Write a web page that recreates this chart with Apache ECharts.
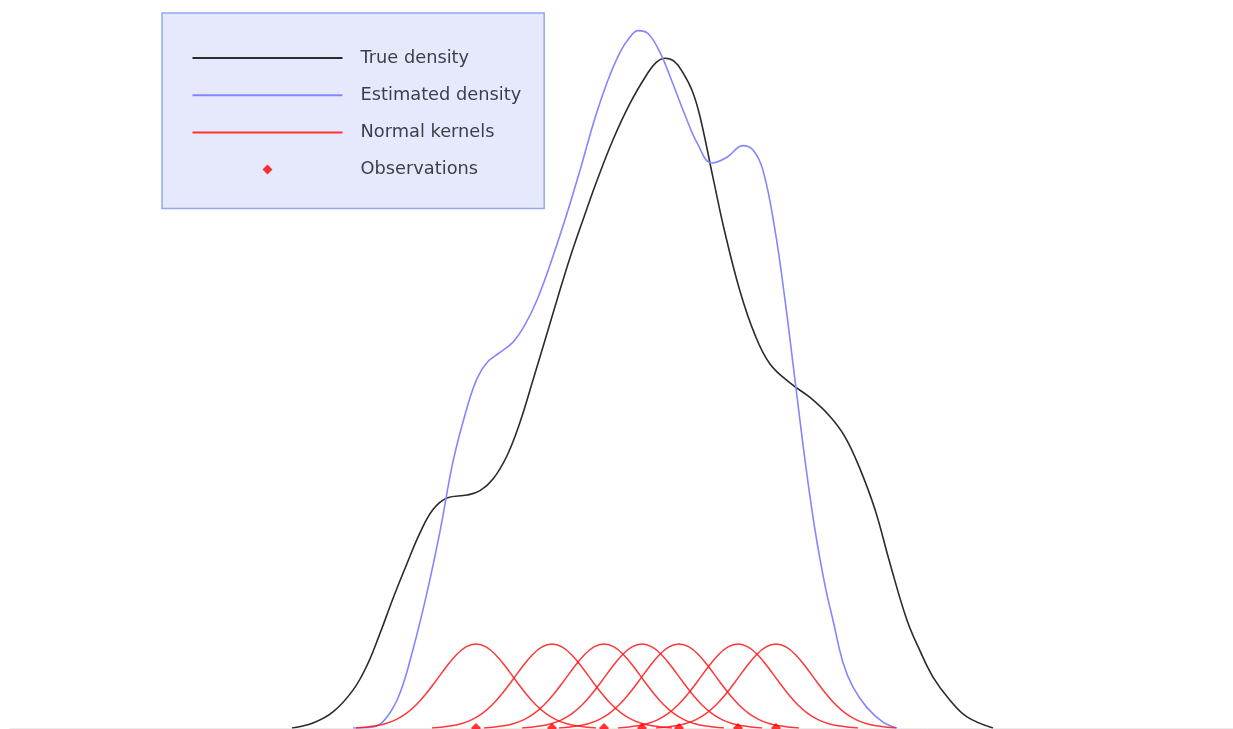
<!DOCTYPE html>
<html>
<head>
<meta charset="utf-8">
<title>Kernel density estimate</title>
<script src="https://cdn.jsdelivr.net/npm/echarts@6/dist/echarts.min.js"></script>
<style>
  html, body { margin: 0; padding: 0; background: #ffffff; }
  #chart { width: 1233px; height: 729px; }
</style>
</head>
<body>
<div id="chart"></div>
<script>
// True density curve: [x, density]
const trueDensity = [
  [-3.24, 0], [-3.03, 0.0034], [-2.83, 0.011], [-2.63, 0.026], [-2.49, 0.043],
  [-2.36, 0.065], [-2.23, 0.089], [-2.09, 0.113], [-1.96, 0.134], [-1.83, 0.150],
  [-1.69, 0.158], [-1.49, 0.160], [-1.36, 0.163], [-1.23, 0.171], [-1.09, 0.187],
  [-0.96, 0.210], [-0.83, 0.239], [-0.69, 0.271], [-0.59, 0.294], [-0.46, 0.323],
  [-0.32, 0.351], [-0.19, 0.376], [-0.03, 0.404], [0.14, 0.429], [0.31, 0.449],
  [0.40, 0.457], [0.49, 0.460], [0.58, 0.458], [0.67, 0.450], [0.76, 0.438],
  [0.84, 0.420], [0.97, 0.378], [1.09, 0.340], [1.24, 0.300], [1.39, 0.270],
  [1.54, 0.250], [1.74, 0.237], [1.94, 0.227], [2.14, 0.214], [2.29, 0.200],
  [2.44, 0.178], [2.59, 0.150], [2.74, 0.113], [2.91, 0.074], [3.04, 0.053],
  [3.17, 0.035], [3.34, 0.019], [3.51, 0.0076], [3.77, 0]
];

// Estimated (kernel) density curve: [x, density]
const estimatedDensity = [
  [-2.63, 0], [-2.43, 0.0007], [-2.29, 0.0076], [-2.16, 0.024], [-2.03, 0.054],
  [-1.89, 0.093], [-1.76, 0.135], [-1.63, 0.183], [-1.49, 0.220], [-1.39, 0.240],
  [-1.29, 0.251], [-1.16, 0.258], [-1.03, 0.265], [-0.91, 0.277], [-0.79, 0.294],
  [-0.66, 0.318], [-0.51, 0.349], [-0.36, 0.383], [-0.21, 0.419], [-0.08, 0.445],
  [0.04, 0.464], [0.14, 0.4746], [0.22, 0.479], [0.32, 0.477], [0.44, 0.464],
  [0.56, 0.444], [0.69, 0.421], [0.81, 0.402], [0.96, 0.388], [1.11, 0.392],
  [1.27, 0.400], [1.37, 0.397], [1.47, 0.383], [1.59, 0.342], [1.69, 0.294],
  [1.79, 0.239], [1.89, 0.184], [1.99, 0.136], [2.09, 0.098], [2.17, 0.074],
  [2.27, 0.045], [2.37, 0.028], [2.51, 0.014], [2.67, 0.004], [2.81, 0]
];

// Observed sample points
const observations = [-1.40, -0.64, -0.12, 0.26, 0.63, 1.22, 1.60];

// Profile of one scaled normal kernel: offset from its observation, and height
const kernelOffsets = [-1.2, -1.0, -0.9, -0.8, -0.7, -0.6, -0.5, -0.4, -0.3, -0.2, -0.1, 0,
                       0.1, 0.2, 0.3, 0.4, 0.5, 0.6, 0.7, 0.8, 0.9, 1.0, 1.2];
const kernelHeights = [0, 0.0016, 0.0031, 0.0058, 0.0099, 0.0158, 0.0235, 0.0325, 0.0417, 0.050, 0.0557, 0.0577,
                       0.0557, 0.050, 0.0417, 0.0325, 0.0235, 0.0158, 0.0099, 0.0058, 0.0031, 0.0016, 0];

const legendNames = ['True density', 'Estimated density', 'Normal kernels', 'Observations'];

const FONT = '"DejaVu Sans", "Liberation Sans", sans-serif';
const TEXT_COLOR = '#3c3f4a';
const KERNEL_COLOR = 'rgba(255, 20, 20, 0.85)';
const HIDDEN_MARKER = { color: 'rgba(0,0,0,0)', borderWidth: 0 };

const kernelSeries = observations.map(function (obs) {
  return {
    name: legendNames[2],
    type: 'line',
    showSymbol: false,
    symbol: 'none',
    smooth: 0.4,
    lineStyle: { color: KERNEL_COLOR, width: 1.5 },
    itemStyle: { color: KERNEL_COLOR },
    z: 3,
    data: kernelOffsets.map(function (d, i) { return [obs + d, kernelHeights[i]]; })
  };
});

const chart = echarts.init(document.getElementById('chart'), null, { renderer: 'canvas' });

chart.setOption({
  animation: false,
  backgroundColor: '#ffffff',
  grid: { left: 10, right: 0, top: 0, bottom: 1, containLabel: false },
  xAxis: {
    type: 'value',
    min: -6.06,
    max: 6.17,
    axisLine: { show: true, onZero: false, lineStyle: { color: '#ececec', width: 1 } },
    axisTick: { show: false },
    axisLabel: { show: false },
    splitLine: { show: false }
  },
  yAxis: {
    type: 'value',
    min: 0,
    max: 0.5,
    axisLine: { show: false },
    axisTick: { show: false },
    axisLabel: { show: false },
    splitLine: { show: false }
  },
  legend: {
    data: [
      { name: legendNames[0], itemStyle: HIDDEN_MARKER },
      { name: legendNames[1], itemStyle: HIDDEN_MARKER },
      { name: legendNames[2], itemStyle: HIDDEN_MARKER },
      { name: legendNames[3], icon: 'path://M0,-5 L5,0 L0,5 L-5,0 Z', itemStyle: { color: '#ff0000' } }
    ],
    orient: 'vertical',
    left: 162,
    top: 13,
    itemWidth: 150,
    itemHeight: 10,
    itemGap: 19.2,
    symbolKeepAspect: true,
    padding: [36, 23, 30, 29.5],
    backgroundColor: '#e6e9fc',
    borderColor: '#97a6f3',
    borderWidth: 1.5,
    selectedMode: false,
    textStyle: {
      fontFamily: FONT,
      fontSize: 17.8,
      color: TEXT_COLOR,
      padding: [0, 0, 0, 13]
    }
  },
  series: [
    {
      name: legendNames[0],
      type: 'line',
      showSymbol: false,
      symbol: 'none',
      smooth: 0.4,
      lineStyle: { color: '#2b2b2b', width: 1.6 },
      itemStyle: { color: '#2b2b2b' },
      z: 2,
      data: trueDensity
    },
    {
      name: legendNames[1],
      type: 'line',
      showSymbol: false,
      symbol: 'none',
      smooth: 0.4,
      lineStyle: { color: '#8585ff', width: 1.6 },
      itemStyle: { color: '#8585ff' },
      z: 2,
      data: estimatedDensity
    }
  ].concat(kernelSeries).concat([
    {
      name: legendNames[3],
      type: 'scatter',
      symbol: 'diamond',
      symbolSize: 10,
      itemStyle: { color: '#ff0000' },
      z: 5,
      data: observations.map(function (x) { return [x, 0]; })
    }
  ])
});
</script>
</body>
</html>
